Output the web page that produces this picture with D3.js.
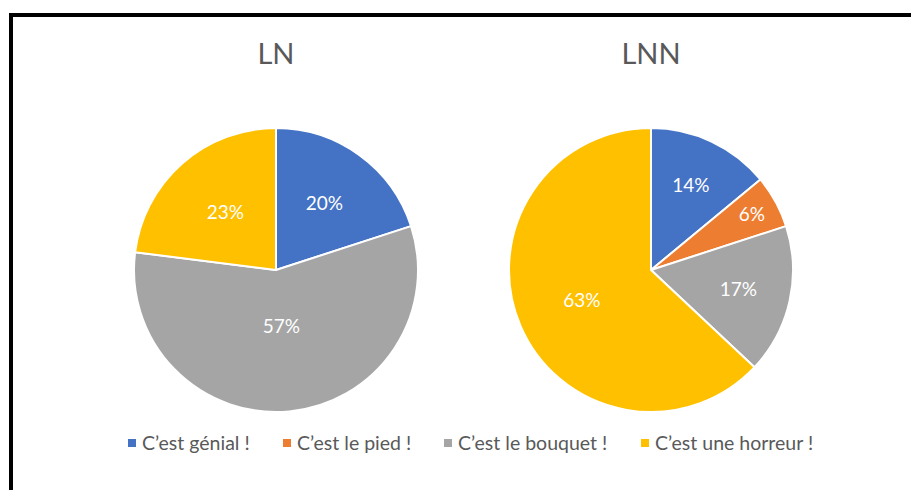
<!DOCTYPE html>
<html>
<head>
<meta charset="utf-8">
<script src="https://cdn.jsdelivr.net/npm/d3@7"></script>
<style>
  html, body { margin: 0; padding: 0; background: #fff; }
  svg { display: block; }
</style>
</head>
<body>
<svg id="chart" width="911" height="490"></svg>
<script>
// Survey answers, one pie per group
const categories = ["C\u2019est génial !", "C\u2019est le pied !", "C\u2019est le bouquet !", "C\u2019est une horreur !"];
const groups = ["LN", "LNN"];
const valuesLN = [20, 0, 57, 23];
const valuesLNN = [14, 6, 17, 63];
const colors = ["#4472C4", "#ED7D31", "#A5A5A5", "#FFC000"];

// Where each percentage sits inside its slice, as a fraction of the radius
const labelRadiusLN = [0.58, 0.6, 0.40, 0.54];
const labelRadiusLNN = [0.66, 0.81, 0.63, 0.53];

const svg = d3.select("#chart");
const font = "Lato, 'Open Sans', sans-serif";

// Outer frame
svg.append("rect")
  .attr("x", 11).attr("y", 15)
  .attr("width", 1000).attr("height", 1000)
  .attr("fill", "none")
  .attr("stroke", "#000")
  .attr("stroke-width", 4);

const radius = 142;
const centers = d3.scalePoint().domain(groups).range([276, 651]);
const cy = 270;

const pie = d3.pie().sort(null).value(d => d.value);
const arc = d3.arc().innerRadius(0).outerRadius(radius);

const seriesByGroup = { LN: valuesLN, LNN: valuesLNN };
const labelRadiusByGroup = { LN: labelRadiusLN, LNN: labelRadiusLNN };

groups.forEach(g => {
  const data = categories.map((c, i) => ({ cat: c, value: seriesByGroup[g][i], i }));
  const gEl = svg.append("g").attr("transform", `translate(${centers(g)},${cy})`);

  const arcs = pie(data);

  gEl.selectAll("path")
    .data(arcs.filter(d => d.data.value > 0))
    .join("path")
    .attr("d", arc)
    .attr("fill", d => colors[d.data.i])
    .attr("stroke", "#fff")
    .attr("stroke-width", 2)
    .attr("stroke-linejoin", "round");

  gEl.selectAll("text.val")
    .data(arcs.filter(d => d.data.value > 0))
    .join("text")
    .attr("class", "val")
    .attr("transform", d => {
      const r = radius * labelRadiusByGroup[g][d.data.i];
      const a = (d.startAngle + d.endAngle) / 2;
      return `translate(${r * Math.sin(a)},${-r * Math.cos(a)})`;
    })
    .attr("text-anchor", "middle")
    .attr("dy", "0.35em")
    .attr("fill", "#fff")
    .attr("font-family", font)
    .attr("font-size", 19)
    .text(d => d.data.value + "%");

  svg.append("text")
    .attr("x", centers(g))
    .attr("y", 64)
    .attr("text-anchor", "middle")
    .attr("fill", "#595959")
    .attr("font-family", font)
    .attr("font-size", 29)
    .text(g);
});

// Legend
const legendX = d3.scaleOrdinal().domain(categories).range([128, 283, 444, 641]);
const legend = svg.append("g");
categories.forEach((c, i) => {
  legend.append("rect")
    .attr("x", legendX(c)).attr("y", 439)
    .attr("width", 8).attr("height", 8)
    .attr("fill", colors[i]);
  legend.append("text")
    .attr("x", legendX(c) + 14)
    .attr("y", 449.5)
    .attr("fill", "#595959")
    .attr("font-family", font)
    .attr("font-size", 19.5)
    .text(c);
});
</script>
</body>
</html>
